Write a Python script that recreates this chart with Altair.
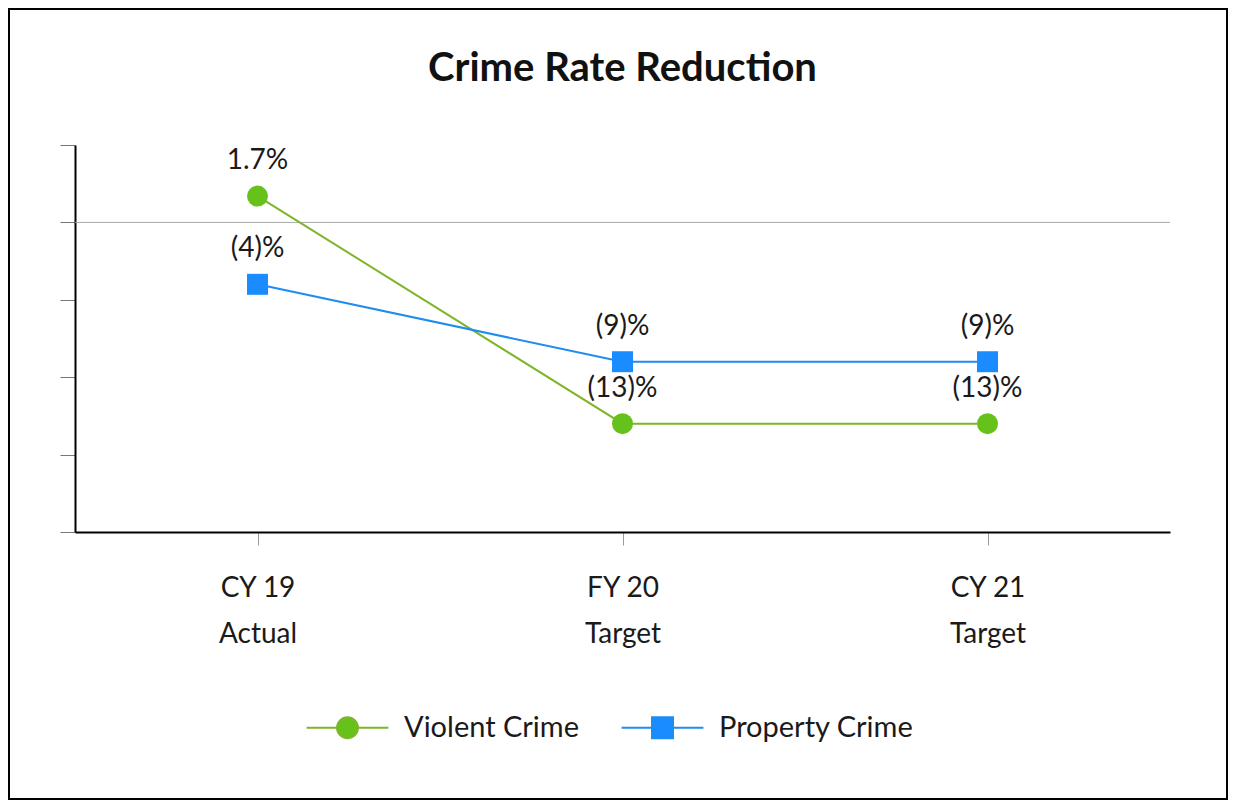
import altair as alt
import pandas as pd

# ---- data ----
periods = ["CY 19|Actual", "FY 20|Target", "CY 21|Target"]
series = ["Violent Crime", "Property Crime"]
violent = [1.7, -13, -13]
property_crime = [-4, -9, -9]
y_ticks = [-20, -15, -10, -5, 0, 5]

line_colors = ["#7fb52a", "#1f8cf0"]
marker_colors = ["#66c21a", "#1a8cff"]
marker_shapes = ["circle", "square"]

rows = []
for s, vals in zip(series, [violent, property_crime]):
    for p, v in zip(periods, vals):
        rows.append({"period": p, "series": s, "value": v})
df = pd.DataFrame(rows)

FONT = "Lato"
TXT = "#1a1a1a"

x_enc = alt.X(
    "period:N",
    sort=periods,
    scale=alt.Scale(type="point", padding=0.5),
    axis=alt.Axis(
        title=None,
        labelExpr="split(datum.label, '|')",
        labelAngle=0,
        labelFont=FONT,
        labelFontSize=28,
        labelColor=TXT,
        labelLineHeight=46,
        labelPadding=29,
        labelBaseline="top",
        domainColor="black",
        domainWidth=2,
        tickColor="#9a9a9a",
        tickSize=13,
        tickWidth=1,
        grid=False,
    ),
)
y_enc = alt.Y(
    "value:Q",
    scale=alt.Scale(domain=[-20, 5], nice=False, zero=False),
    axis=alt.Axis(
        title=None,
        labels=False,
        values=y_ticks,
        grid=False,
        domainColor="black",
        domainWidth=2,
        tickColor="#777777",
        tickSize=15,
        tickWidth=1,
    ),
)

frame = alt.Chart(alt.Data(values=[{}])).mark_rect(
    fillOpacity=0, stroke="black", strokeWidth=2, clip=False
).encode(
    x=alt.value(-66), x2=alt.value(1152), y=alt.value(-136), y2=alt.value(654)
)

zero_line = alt.Chart(alt.Data(values=[{}])).mark_rule(
    color="#a8a8a8", strokeWidth=1
).encode(y=alt.datum(0))

lines = alt.Chart(df).mark_line(strokeWidth=2).encode(
    x=x_enc,
    y=y_enc,
    color=alt.Color(
        "series:N",
        scale=alt.Scale(domain=series, range=line_colors),
        legend=None,
    ),
)

legend = alt.Legend(
    title=None,
    orient="none",
    legendX=230,
    legendY=568,
    direction="horizontal",
    symbolType={
        "expr": "datum.value == 'Violent Crime' ? "
        "'M-3.9,0H-1M1,0H3.9M1,0A1,1,0,1,1,-1,0A1,1,0,1,1,1,0Z' : "
        "'M-3.9,0H-1M1,0H3.9M-1,-1H1V1H-1Z'"
    },
    symbolStrokeColor={
        "expr": "datum.value == 'Violent Crime' ? '%s' : '%s'"
        % (line_colors[0], line_colors[1])
    },
    symbolStrokeWidth=2,
    symbolSize=440,
    symbolOpacity=1,
    symbolOffset=28,
    labelOffset=42,
    columnPadding=38,
    labelFont=FONT,
    labelFontSize=29,
    labelColor=TXT,
    labelLimit=500,
)

points = alt.Chart(df).mark_point(filled=True, size=440, opacity=1).encode(
    x=x_enc,
    y=y_enc,
    color=alt.Color(
        "series:N",
        scale=alt.Scale(domain=series, range=marker_colors),
        legend=legend,
    ),
    shape=alt.Shape(
        "series:N",
        scale=alt.Scale(domain=series, range=marker_shapes),
        legend=None,
    ),
)

labels = alt.Chart(df).transform_calculate(
    label="datum.value < 0 ? '(' + abs(datum.value) + ')%' : datum.value + '%'"
).mark_text(
    dy=-35, font=FONT, fontSize=28, color=TXT, baseline="middle"
).encode(x=x_enc, y=y_enc, text="label:N")

chart = (
    alt.layer(frame, zero_line, lines, points, labels)
    .resolve_scale(color="independent")
    .properties(
        width=1095,
        height=387,
        autosize=alt.AutoSizeParams(type="none"),
        padding={"left": 67, "top": 137, "right": 58, "bottom": 268},
        title=alt.TitleParams(
            "Crime Rate Reduction",
            font=FONT,
            fontSize=40,
            fontWeight="bold",
            color="#111111",
            anchor="middle",
            baseline="alphabetic",
            offset=-113,
        ),
    )
    .configure(font=FONT, background="white")
    .configure_view(stroke=None)
)

chart.save("out.html", embed_options={"renderer": "svg", "actions": False})
